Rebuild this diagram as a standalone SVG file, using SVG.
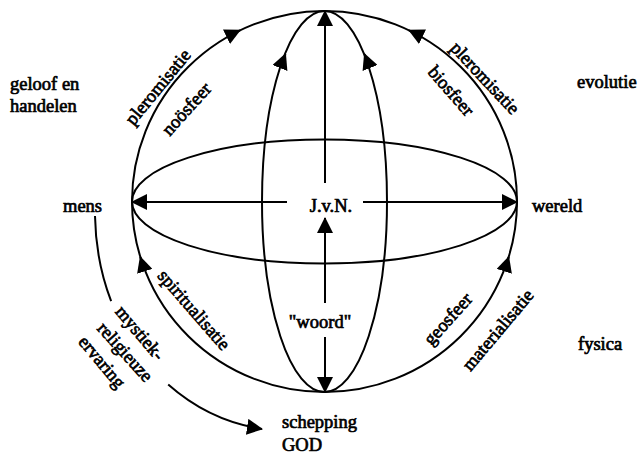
<svg xmlns="http://www.w3.org/2000/svg" width="640" height="455" viewBox="0 0 640 455">
<style>
  .ln { fill: none; stroke: #000; stroke-width: 2; }
  .ar { fill: none; stroke: #000; stroke-width: 2; marker-end: url(#ah); }
  text { font-family: "Liberation Serif", "Times New Roman", serif; font-size: 18.5px; font-weight: normal; fill: #000; stroke: #000; stroke-width: 0.7; }
  .c { text-anchor: middle; }
</style>
<defs>
  <marker id="ah" markerUnits="userSpaceOnUse" viewBox="0 0 16 16" refX="15" refY="8" markerWidth="16" markerHeight="16" orient="auto">
    <path d="M0,0 L16,8 L0,16 z" fill="#000"/>
  </marker>
</defs>
<rect width="640" height="455" fill="#fff"/>

<g id="connectors">
  <ellipse class="ln" cx="324.5" cy="201.5" rx="192.5" ry="190.5"/>
  <ellipse class="ln" cx="324.5" cy="201.5" rx="62.5" ry="190.5"/>
  <ellipse class="ln" cx="324.5" cy="201.5" rx="192.5" ry="62"/>
  <path class="ar" d="M231,34.65 L240,30.3"/>
  <path class="ar" d="M418,34.65 L409,30.3"/>
  <path class="ar" d="M143.3,266.6 L140.3,257"/>
  <path class="ar" d="M505.7,266.6 L508.7,257"/>
  <path class="ar" d="M281.8,63.3 L285.5,54"/>
  <path class="ar" d="M368.2,63.3 L364.5,54"/>
  <path class="ar" d="M325,183 L325,11"/>
  <path class="ar" d="M325,337 L325,392"/>
  <path class="ar" d="M325,303 L325,218"/>
  <path class="ar" d="M287,202 L132,202"/>
  <path class="ar" d="M363,202 L517,202"/>
  <path class="ln" d="M95,216 C95.54,246.78 101.26,275.45 111.13,301.17"/>
  <path class="ar" d="M168.2,384.59 C194.82,408.11 227.04,423.68 262,429"/>
</g>

<g id="geloof"><text x="10" y="90">geloof en</text><text x="10" y="112">handelen</text></g>
<g id="evolutie"><text x="577" y="88">evolutie</text></g>
<g id="mens"><text x="63" y="212">mens</text></g>
<g id="wereld"><text x="532" y="212">wereld</text></g>
<g id="jvn"><text class="c" x="331" y="212">J.v.N.</text></g>
<g id="fysica"><text x="578" y="350">fysica</text></g>
<g id="woord"><text class="c" x="320" y="328">"woord"</text></g>
<g id="schepping"><text x="282" y="428">schepping</text><text x="282" y="451">GOD</text></g>

<g id="pleromisatie-l"><text class="c" y="6" transform="translate(158,87) rotate(-50.6)">pleromisatie</text></g>
<g id="noosfeer"><text class="c" y="6" transform="translate(186.5,109) rotate(-48)">noösfeer</text></g>
<g id="pleromisatie-r"><text class="c" y="6" transform="translate(485,78) rotate(47)">pleromisatie</text></g>
<g id="biosfeer"><text class="c" y="6" transform="translate(451,91) rotate(49)">biosfeer</text></g>
<g id="spiritualisatie"><text class="c" y="6" transform="translate(194,310) rotate(49)">spiritualisatie</text></g>
<g id="mystiek">
  <text class="c" y="6" transform="translate(140,333) rotate(50)">mystiek-</text>
  <text class="c" y="6" transform="translate(125,352) rotate(48)">religieuze</text>
  <text class="c" y="6" transform="translate(102,362) rotate(50)">ervaring</text>
</g>
<g id="geosfeer"><text class="c" y="6" transform="translate(448,319) rotate(-48)">geosfeer</text></g>
<g id="materialisatie"><text class="c" y="6" transform="translate(498,330) rotate(-50)">materialisatie</text></g>
</svg>
